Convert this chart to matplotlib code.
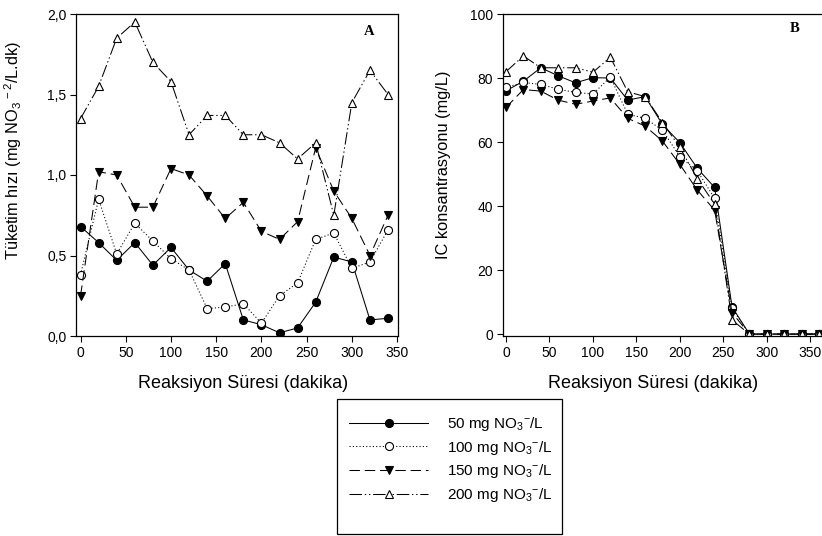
import matplotlib
matplotlib.use("Agg")
import matplotlib.pyplot as plt
from matplotlib.patches import Rectangle

plt.rcParams['font.family'] = ['Liberation Sans', 'DejaVu Sans']
plt.rcParams['mathtext.fontset'] = 'custom'
plt.rcParams['mathtext.rm'] = 'Liberation Sans'
plt.rcParams['mathtext.it'] = 'Liberation Sans'
plt.rcParams['mathtext.default'] = 'regular'
plt.rcParams['lines.scale_dashes'] = False

# ---------------- data ----------------
time_a = [0, 20, 40, 60, 80, 100, 120, 140, 160, 180, 200, 220, 240, 260, 280, 300, 320, 340]
rate_50 = [0.68, 0.58, 0.47, 0.58, 0.44, 0.55, 0.41, 0.34, 0.45, 0.10, 0.07, 0.02, 0.05, 0.21, 0.49, 0.46, 0.10, 0.11]
rate_100 = [0.38, 0.85, 0.51, 0.70, 0.59, 0.48, 0.41, 0.17, 0.18, 0.20, 0.08, 0.25, 0.33, 0.60, 0.64, 0.42, 0.46, 0.66]
rate_150 = [0.25, 1.02, 1.00, 0.80, 0.80, 1.04, 1.00, 0.87, 0.73, 0.83, 0.65, 0.60, 0.71, 1.17, 0.90, 0.73, 0.50, 0.75]
rate_200 = [1.35, 1.55, 1.85, 1.95, 1.70, 1.58, 1.25, 1.37, 1.37, 1.25, 1.25, 1.20, 1.10, 1.20, 0.75, 1.45, 1.65, 1.50]

time_b = [0, 20, 40, 60, 80, 100, 120, 140, 160, 180, 200, 220, 240, 260, 280, 300, 320, 340, 360]
ic_50 = [76.0, 79.0, 83.2, 80.7, 78.5, 80.1, 80.0, 73.1, 74.2, 65.5, 59.8, 51.8, 45.8, 8.5, 0, 0, 0, 0, 0]
ic_100 = [77.1, 78.6, 78.0, 76.5, 75.5, 75.0, 80.3, 68.7, 67.4, 63.7, 55.4, 51.0, 42.4, 8.0, 0, 0, 0, 0, 0]
ic_150 = [70.8, 76.4, 75.9, 73.1, 71.8, 72.8, 73.8, 67.4, 65.0, 60.3, 53.0, 45.0, 38.7, 6.7, 0, 0, 0, 0, 0]
ic_200 = [82.0, 86.9, 83.2, 83.2, 83.2, 81.8, 86.5, 75.7, 74.2, 66.1, 58.3, 48.6, 40.6, 4.4, 0, 0, 0, 0, 0]

labels = [r'50 mg NO$_3$$^{-}$/L', r'100 mg NO$_3$$^{-}$/L',
          r'150 mg NO$_3$$^{-}$/L', r'200 mg NO$_3$$^{-}$/L']

xticks_a = [0, 50, 100, 150, 200, 250, 300, 350]
yticks_a = [0.0, 0.5, 1.0, 1.5, 2.0]
yticklabels_a = ['0,0', '0,5', '1,0', '1,5', '2,0']
xticks_b = [0, 50, 100, 150, 200, 250, 300, 350]
yticks_b = [0, 20, 40, 60, 80, 100]

# ---------------- styles ----------------
styles = [
    dict(linestyle='-', marker='o', mfc='black', mec='black'),
    dict(linestyle=(0, (0.8, 1.6)), marker='o', mfc='white', mec='black'),
    dict(linestyle=(0, (7.5, 3.5)), marker='v', mfc='black', mec='black'),
    dict(linestyle=(0, (9, 2, 1, 2, 1, 2)), marker='^', mfc='white', mec='black'),
]
common = dict(color='black', lw=0.75, ms=5.8, mew=0.8)

W, H = 822, 536
fig = plt.figure(figsize=(W / 100, H / 100), dpi=100)

def frac(x0, y0, x1, y1):
    return [x0 / W, 1 - y1 / H, (x1 - x0) / W, (y1 - y0) / H]

ax_a = fig.add_axes(frac(76, 14, 398, 336))
ax_b = fig.add_axes(frac(502.7, 14, 832, 336))

series_a = [rate_50, rate_100, rate_150, rate_200]
series_b = [ic_50, ic_100, ic_150, ic_200]

handles = []
for ys, st, lab in zip(series_a, styles, labels):
    h, = ax_a.plot(time_a, ys, label=lab, **st, **common)
    handles.append(h)
for ys, st in zip(series_b, styles):
    ax_b.plot(time_b, ys, **st, **common)

for ax in (ax_a, ax_b):
    for sp in ax.spines.values():
        sp.set_linewidth(0.9)
    ax.tick_params(direction='out', length=4, width=0.8, labelsize=10,
                   top=False, right=False, pad=3)
    ax.set_xlabel('Reaksiyon Süresi (dakika)', fontsize=13)

ax_a.set_xlim(-5, 351)
ax_a.set_ylim(0, 2.0)
ax_a.set_xticks(xticks_a)
ax_a.set_yticks(yticks_a)
ax_a.set_yticklabels(yticklabels_a)
ax_a.set_ylabel(r'Tüketim hızı (mg NO$_3$$^{\,-2}$/L.dk)', fontsize=11.8)
ax_a.yaxis.set_label_coords(-0.16, 0.575)
ax_a.xaxis.set_label_coords(0.52, -0.12)
ax_a.text(0.91, 0.945, 'A', transform=ax_a.transAxes, ha='center', va='center',
          fontsize=10.5, fontweight='bold', family='Liberation Serif')

ax_b.set_xlim(-3.8, 375)
ax_b.set_ylim(-0.6, 100)
ax_b.set_xticks(xticks_b)
ax_b.set_yticks(yticks_b)
ax_b.set_ylabel('IC konsantrasyonu (mg/L)', fontsize=11.8)
ax_b.yaxis.set_label_coords(-0.158, 0.531)
ax_b.xaxis.set_label_coords(0.456, -0.12)
ax_b.text(0.887, 0.9565, 'B', transform=ax_b.transAxes, ha='center', va='center',
          fontsize=10.5, fontweight='bold', family='Liberation Serif')

# legend box
fig.patches.append(Rectangle((337 / W, 1 - 534 / H), (562 - 337) / W, (534 - 399) / H,
                             transform=fig.transFigure, fill=False, ec='black', lw=0.9))
fig.legend(handles=handles, loc='upper left', bbox_to_anchor=(349 / W, 1 - 415 / H),
           frameon=False, fontsize=11, handlelength=5.2, handletextpad=1.2,
           labelspacing=0.37, borderpad=0.0, borderaxespad=0.0)

fig.savefig('out.png', dpi=100)
